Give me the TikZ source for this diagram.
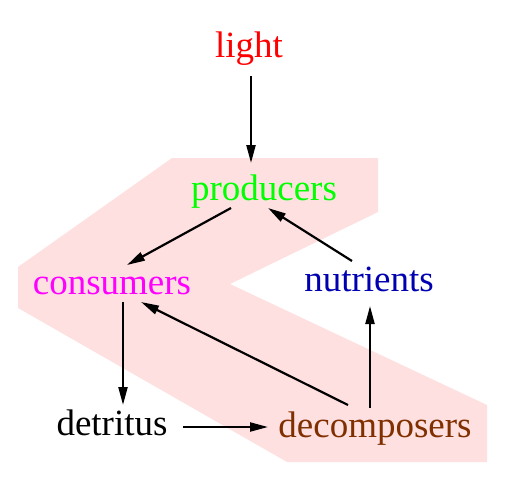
\documentclass[tikz,border=0pt]{standalone}
\usepackage{fontspec}
\setmainfont{Liberation Serif}
\usetikzlibrary{arrows.meta}
\definecolor{bandpink}{RGB}{255,224,224}
\definecolor{cgreen}{RGB}{0,255,0}
\definecolor{cmag}{RGB}{255,0,255}
\definecolor{cblue}{RGB}{0,0,176}
\definecolor{cbrown}{RGB}{128,48,0}
\begin{document}
\begin{tikzpicture}[x=1pt,y=-1pt,
  lbl/.style={anchor=base,inner sep=0pt,font=\fontsize{37}{40}\selectfont},
  conn/.style={line width=2.2pt,-{Triangle[length=18pt,width=9pt]}}]
\useasboundingbox (0,0) rectangle (527,480);
\fill[bandpink] (172,158) -- (378,158) -- (378,212) -- (230,284) -- (487,405)
  -- (487,462) -- (287,462) -- (18,308) -- (18,267) -- cycle;
\node[lbl,text=red] (light) at (249,57) {light};
\node[lbl,text=cgreen] (producers) at (264,200) {producers};
\node[lbl,text=cmag] (consumers) at (112,294) {consumers};
\node[lbl,text=cblue] (nutrients) at (369,291) {nutrients};
\node[lbl,text=black] (detritus) at (112,435) {detritus};
\node[lbl,text=cbrown] (decomposers) at (375,437) {decomposers};
\draw[conn] ([shift={(2,19)}]light.base) -- ([shift={(-13,-37)}]producers.base);
\draw[conn] ([shift={(-33,8)}]producers.base) -- ([shift={(15,-29)}]consumers.base);
\draw[conn] ([shift={(-17,-30)}]nutrients.base) -- ([shift={(4,8)}]producers.base);
\draw[conn] ([shift={(11,8)}]consumers.base) -- ([shift={(11,-30)}]detritus.base);
\draw[conn] ([shift={(-27,-32)}]decomposers.base) -- ([shift={(29,8)}]consumers.base);
\draw[conn] ([shift={(-5,-29)}]decomposers.base) -- ([shift={(1,15)}]nutrients.base);
\draw[conn] ([shift={(71,-8)}]detritus.base) -- ([shift={(-107,-10)}]decomposers.base);
\end{tikzpicture}
\end{document}
